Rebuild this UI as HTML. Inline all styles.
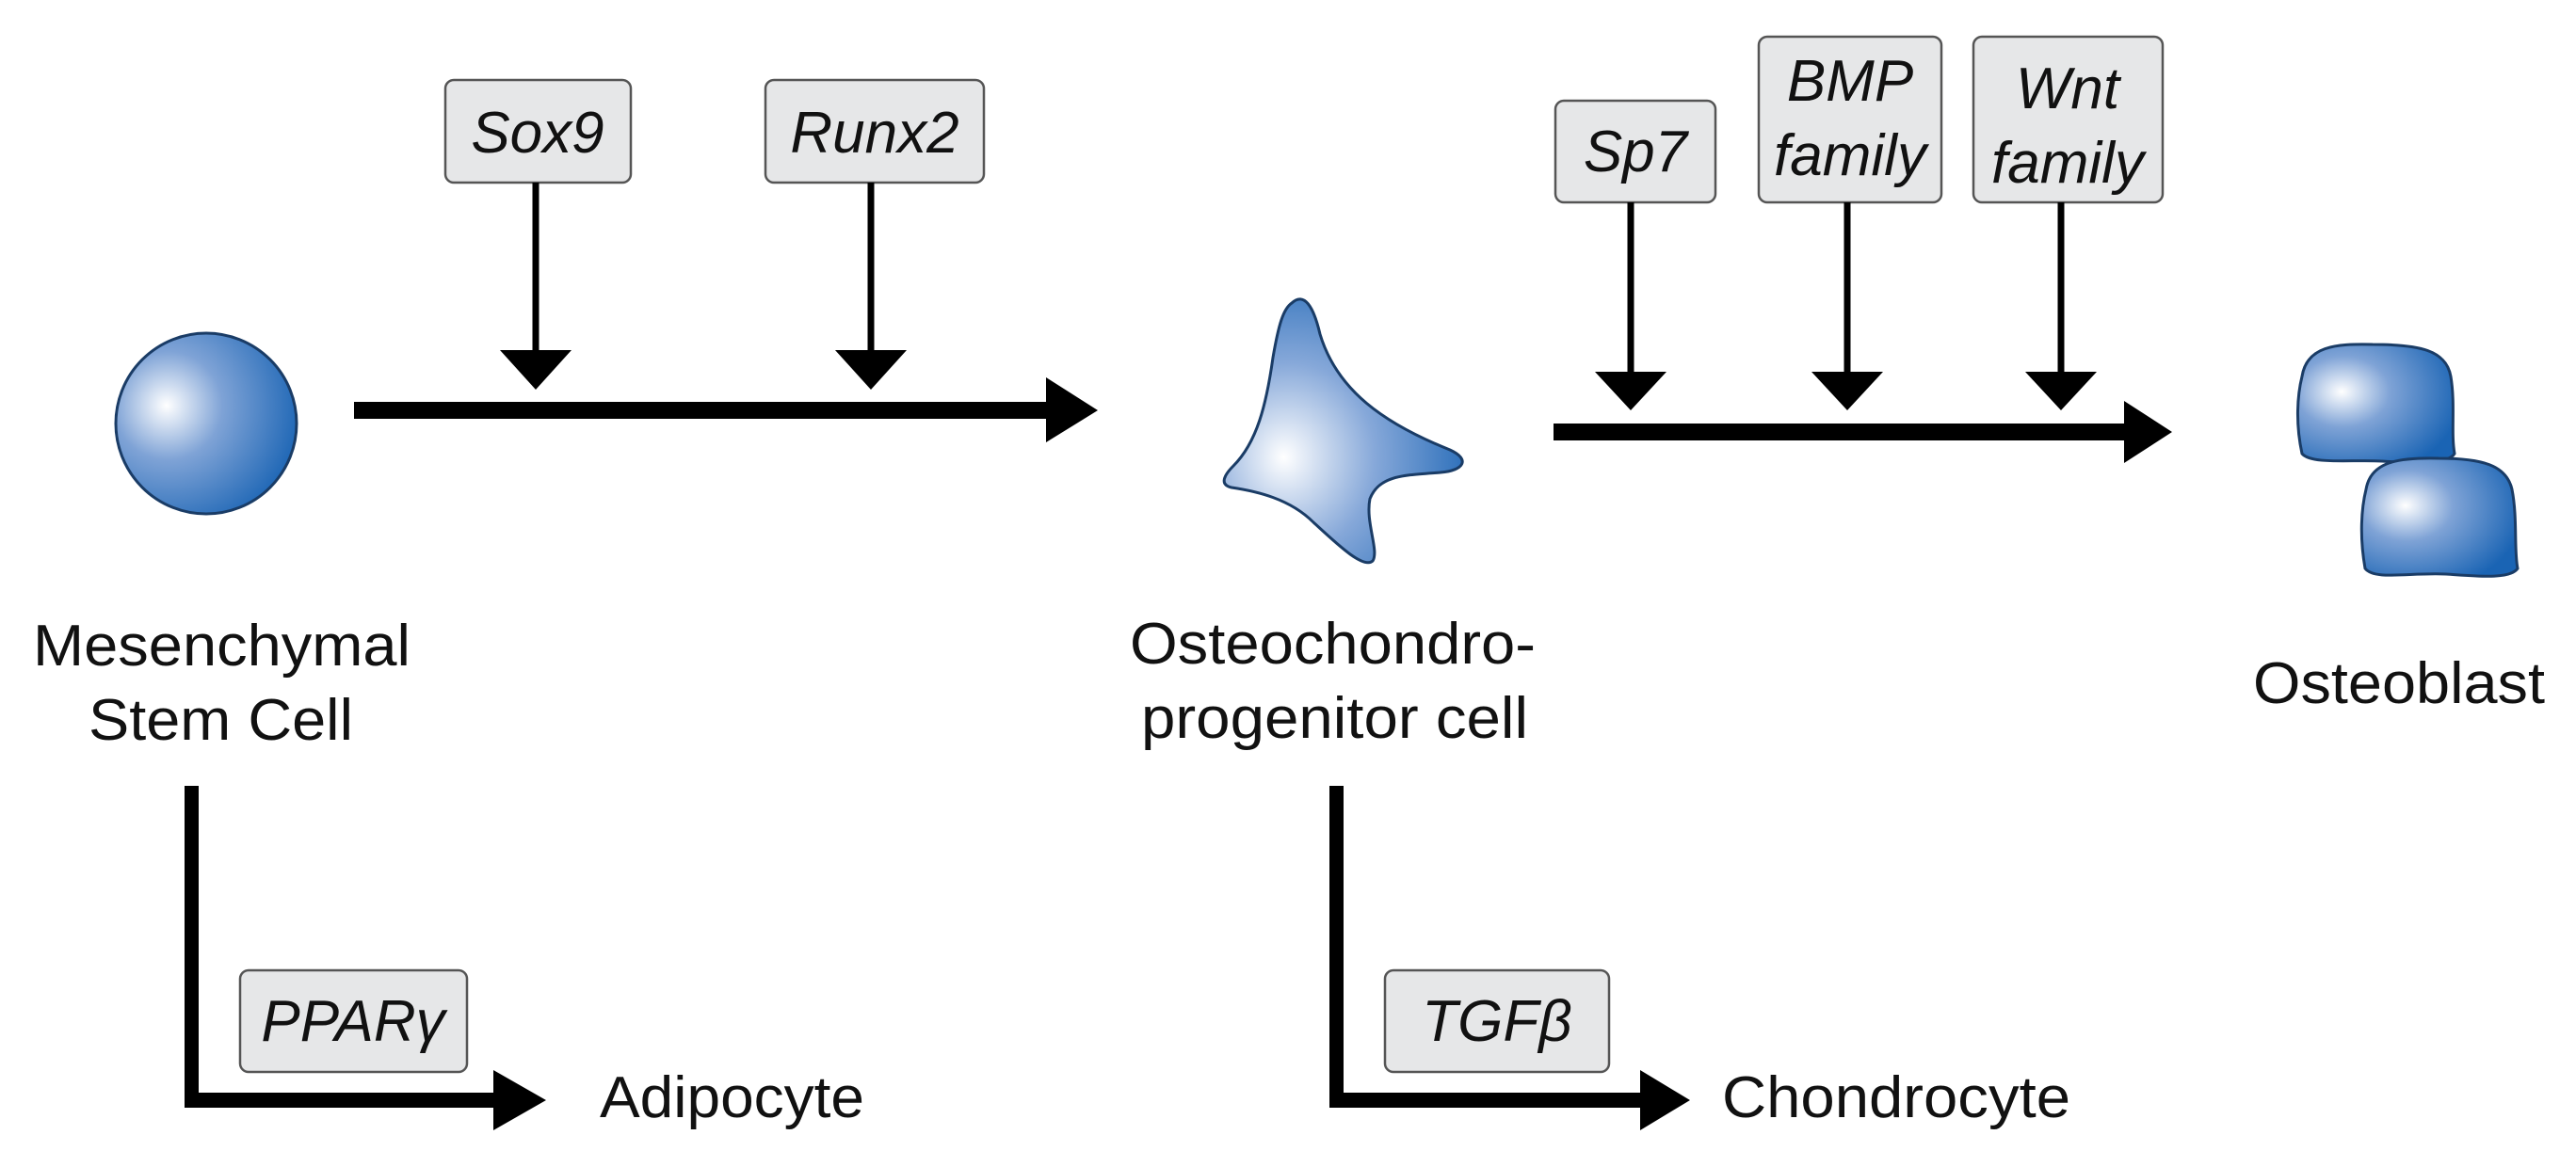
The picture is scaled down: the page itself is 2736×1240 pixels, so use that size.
<!DOCTYPE html>
<html><head><meta charset="utf-8"><style>html,body{margin:0;padding:0;background:#fff}svg{display:block}</style></head>
<body>
<svg width="2736" height="1240" viewBox="0 0 2736 1240" xmlns="http://www.w3.org/2000/svg" font-family="Liberation Sans, Arial, sans-serif">
<defs>
<radialGradient id="g1" cx="0.3" cy="0.4" r="0.75" fx="0.28" fy="0.4">
<stop offset="0" stop-color="#ffffff"/><stop offset="0.4" stop-color="#7fa3d6"/><stop offset="1" stop-color="#1a64b4"/></radialGradient>
<radialGradient id="g2" cx="0.3" cy="0.6" r="0.8" fx="0.25" fy="0.6">
<stop offset="0" stop-color="#ffffff"/><stop offset="0.45" stop-color="#86a8d9"/><stop offset="1" stop-color="#1a64b4"/></radialGradient>
</defs>
<g fill="#e6e7e8" stroke="#555" stroke-width="2.5">
<rect x="473" y="85" width="197" height="109" rx="9"/>
<rect x="813" y="85" width="232" height="109" rx="9"/>
<rect x="1652" y="107" width="170" height="108" rx="9"/>
<rect x="1868" y="39" width="194" height="176" rx="9"/>
<rect x="2096" y="39" width="201" height="176" rx="9"/>
<rect x="255" y="1031" width="241" height="108" rx="9"/>
<rect x="1471" y="1031" width="238" height="108" rx="9"/>
</g>
<g font-style="italic" font-size="62" fill="#111" text-anchor="middle">
<text x="571" y="162">Sox9</text>
<text x="929" y="162">Runx2</text>
<text x="1737" y="182">Sp7</text>
<text x="1965" y="107">BMP</text>
<text x="1965" y="186">family</text>
<text x="2196" y="115">Wnt</text>
<text x="2196" y="194">family</text>
<text x="375" y="1106">PPARγ</text>
<text x="1590" y="1106">TGFβ</text>
</g>
<g stroke="#000" stroke-width="7">
<line x1="569" y1="194" x2="569" y2="375"/>
<line x1="925" y1="194" x2="925" y2="375"/>
<line x1="1732" y1="215" x2="1732" y2="398"/>
<line x1="1962" y1="215" x2="1962" y2="398"/>
<line x1="2189" y1="215" x2="2189" y2="398"/>
</g>
<g fill="#000">
<polygon points="531,372 607,372 569,414"/>
<polygon points="887,372 963,372 925,414"/>
<polygon points="1694,395 1770,395 1732,436"/>
<polygon points="1924,395 2000,395 1962,436"/>
<polygon points="2151,395 2227,395 2189,436"/>
<rect x="376" y="427" width="740" height="18"/>
<polygon points="1111,401 1166,436 1111,470"/>
<rect x="1650" y="450" width="610" height="18"/>
<polygon points="2256,426 2307,459 2256,492"/>
<rect x="196" y="835" width="15" height="342"/>
<rect x="196" y="1161" width="332" height="16"/>
<polygon points="524,1137 580,1169 524,1201"/>
<rect x="1412" y="835" width="15" height="342"/>
<rect x="1412" y="1161" width="334" height="16"/>
<polygon points="1742,1137 1795,1169 1742,1201"/>
</g>
<ellipse cx="219" cy="450" rx="96" ry="96" fill="url(#g1)" stroke="#1a3c66" stroke-width="3"/>
<path d="M1372,322 C1385,310 1395,325 1402,355 C1420,415 1470,450 1540,478 C1562,488 1555,500 1530,502 C1490,505 1465,505 1455,530 C1450,555 1465,585 1458,596 C1448,605 1420,578 1395,555 C1370,530 1335,522 1308,518 C1295,515 1300,505 1310,495 C1335,470 1345,430 1352,380 C1358,345 1363,328 1372,322 Z" fill="url(#g2)" stroke="#1a3c66" stroke-width="3"/>
<path d="M2445,400 C2450,368 2480,365 2520,366 C2570,366 2598,372 2603,400 C2608,430 2603,460 2607,482 C2600,494 2560,492 2530,490 C2500,488 2455,494 2445,482 C2438,450 2440,420 2445,400 Z" fill="url(#g1)" stroke="#1a3c66" stroke-width="3"/>
<path d="M2513,520 C2518,490 2548,486 2590,487 C2636,487 2662,494 2668,520 C2674,550 2670,585 2674,604 C2666,616 2630,612 2598,610 C2560,608 2522,617 2512,604 C2506,570 2508,540 2513,520 Z" fill="url(#g1)" stroke="#1a3c66" stroke-width="3"/>
<g font-size="62" fill="#111">
<text x="35" y="707" textLength="401" lengthAdjust="spacingAndGlyphs">Mesenchymal</text>
<text x="94" y="786" textLength="281" lengthAdjust="spacingAndGlyphs">Stem Cell</text>
<text x="1200" y="705" textLength="431" lengthAdjust="spacingAndGlyphs">Osteochondro-</text>
<text x="1212" y="784" textLength="411" lengthAdjust="spacingAndGlyphs">progenitor cell</text>
<text x="2393" y="747" textLength="310" lengthAdjust="spacingAndGlyphs">Osteoblast</text>
<text x="637" y="1187" textLength="281" lengthAdjust="spacingAndGlyphs">Adipocyte</text>
<text x="1829" y="1187" textLength="370" lengthAdjust="spacingAndGlyphs">Chondrocyte</text>
</g>
</svg>
</body></html>
